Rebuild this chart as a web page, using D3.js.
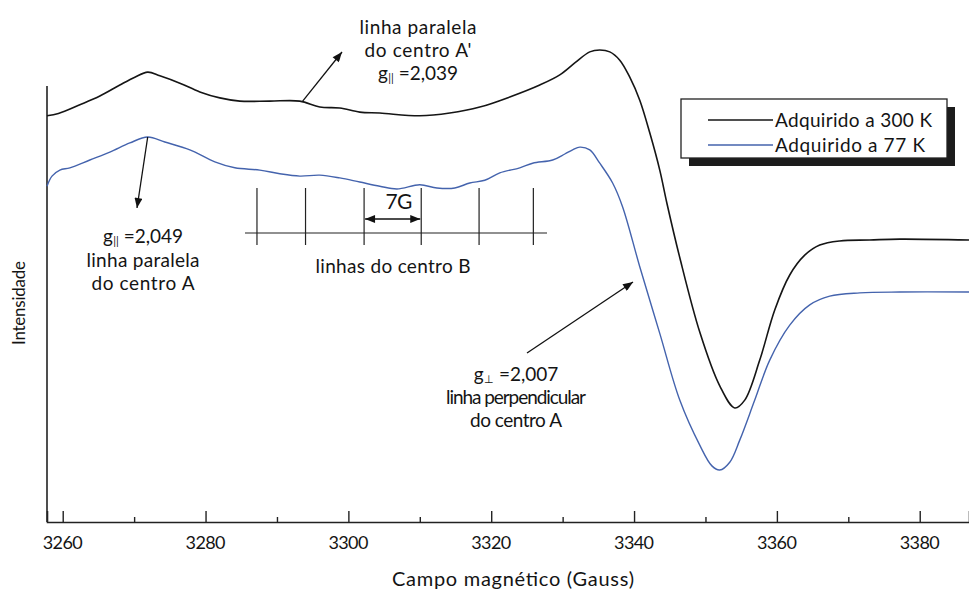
<!DOCTYPE html>
<html>
<head>
<meta charset="utf-8">
<script src="https://cdn.jsdelivr.net/npm/d3@7"></script>
<style>
  html, body { margin: 0; padding: 0; background: #fff; }
  svg { display: block; }
  text { font-family: "Lato", "Open Sans", sans-serif; fill: #141414; }
</style>
</head>
<body>
<svg id="chart" width="969" height="592"></svg>
<script>
// EPR spectra: magnetic field (G) vs. intensity (arbitrary units)
const field300 = [3257.8, 3259.4, 3262.4, 3265.2, 3268.0, 3270.1, 3271.9, 3273.6, 3276.4, 3279.2,
  3282.0, 3284.8, 3289.0, 3293.2, 3296.0, 3298.8, 3301.6, 3304.4, 3310.0, 3314.2, 3318.4,
  3322.6, 3326.8, 3329.6, 3331.7, 3333.8, 3335.2, 3336.6, 3338.0, 3339.4, 3340.8, 3342.2,
  3343.6, 3344.6, 3346.4, 3349.2, 3352.0, 3354.1, 3355.5, 3357.6, 3359.7, 3361.8, 3363.9,
  3366.0, 3368.8, 3373.0, 3377.2, 3386.9];
const int300 = [88.3, 88.8, 90.7, 92.6, 95.0, 96.7, 97.8, 97.0, 95.4, 93.5,
  92.2, 91.5, 91.5, 91.5, 90.2, 90.0, 89.1, 88.9, 88.3, 88.9, 90.2,
  92.4, 95.0, 97.2, 99.8, 102.2, 102.6, 102.2, 100.4, 96.7, 91.7, 84.6,
  76.5, 69.3, 57.5, 41.3, 29.6, 24.8, 26.5, 35.2, 46.1, 53.7, 58.0,
  60.2, 61.1, 61.3, 61.5, 61.3];

const field77 = [3257.8, 3258.5, 3259.6, 3261.0, 3263.8, 3266.6, 3269.4, 3271.9, 3274.3, 3277.8,
  3281.3, 3284.1, 3287.6, 3290.4, 3293.2, 3296.0, 3298.8, 3301.6, 3304.4, 3306.8, 3310.0,
  3312.4, 3314.9, 3317.0, 3319.1, 3321.2, 3324.0, 3325.8, 3328.6, 3330.3, 3331.4, 3332.4,
  3333.8, 3335.2, 3337.0, 3338.4, 3340.8, 3343.6, 3346.4, 3349.2, 3350.9, 3352.0, 3353.4,
  3354.8, 3356.9, 3359.0, 3361.8, 3364.6, 3367.4, 3371.6, 3377.2, 3386.9];
const int77 = [73.0, 75.2, 76.5, 77.0, 78.7, 80.4, 82.4, 83.7, 82.6, 80.9,
  78.3, 77.0, 76.5, 75.7, 75.2, 75.4, 74.8, 73.9, 73.0, 72.4, 73.3,
  72.6, 72.6, 73.7, 74.3, 75.9, 77.0, 78.0, 78.7, 80.0, 80.9, 81.5,
  80.9, 78.0, 73.7, 68.5, 55.5, 41.0, 26.5, 16.7, 12.2, 11.3, 13.0,
  17.8, 26.5, 35.2, 42.8, 47.2, 49.1, 49.8, 50.0, 50.0];

const xTicks = [3260, 3280, 3300, 3320, 3340, 3360, 3380];
const xMinorTicks = [3270, 3290, 3310, 3330, 3350, 3370];

// positions of the six centre-B lines (G)
const centroB = [3287.2, 3294.0, 3302.2, 3310.2, 3318.3, 3325.9];

const seriesNames = ["Adquirido a 300 K", "Adquirido a 77 K"];
const seriesColors = ["#151515", "#4463ad"];

const svg = d3.select("#chart");

const x = d3.scaleLinear().domain([3257.8, 3386.9]).range([47, 969]);
const y = d3.scaleLinear().domain([0, 100]).range([522, 62]);

// set a text element's advance width by adjusting its letter spacing
function fit(sel, w) {
  return sel.attr("textLength", w).attr("lengthAdjust", "spacing");
}

// arrowhead markers
const defs = svg.append("defs");
defs.append("marker")
  .attr("id", "arrow")
  .attr("viewBox", "0 0 10 8")
  .attr("refX", 10).attr("refY", 4)
  .attr("markerWidth", 11).attr("markerHeight", 8)
  .attr("markerUnits", "userSpaceOnUse")
  .attr("orient", "auto-start-reverse")
  .append("path").attr("d", "M0,0 L10,4 L0,8 Z").attr("fill", "#111");

// axes
const xAxisMajor = d3.axisTop(x).tickValues(xTicks).tickSize(11).tickFormat("");
const xAxisMinor = d3.axisTop(x).tickValues(xMinorTicks).tickSize(5).tickFormat("");

const gx = svg.append("g").attr("transform", "translate(0,522)");
gx.call(xAxisMajor);
gx.append("g").call(xAxisMinor).select(".domain").remove();
gx.selectAll(".domain").attr("stroke", "#222").attr("stroke-width", 1.6);
gx.selectAll(".tick line").attr("stroke", "#222").attr("stroke-width", 1.4);

svg.append("g").selectAll("text")
  .data(xTicks).join("text")
  .attr("x", d => x(d)).attr("y", 549)
  .attr("text-anchor", "middle")
  .attr("font-size", 18)
  .call(s => fit(s, 40))
  .text(d => d);

svg.append("line")
  .attr("x1", 47).attr("x2", 47).attr("y1", 86).attr("y2", 522)
  .attr("stroke", "#222").attr("stroke-width", 1.6);

svg.append("text")
  .attr("x", 513).attr("y", 586)
  .attr("text-anchor", "middle")
  .attr("font-size", 20)
  .call(s => fit(s, 242))
  .text("Campo magnético (Gauss)");

svg.append("text")
  .attr("transform", "translate(25,303) rotate(-90)")
  .attr("text-anchor", "middle")
  .attr("font-size", 17)
  .call(s => fit(s, 84))
  .text("Intensidade");

// spectra
const line = d3.line()
  .x(d => x(d[0])).y(d => y(d[1]))
  .curve(d3.curveCatmullRom.alpha(0.5));

const spectra = [
  d3.zip(field300, int300),
  d3.zip(field77, int77)
];

svg.append("g").selectAll("path")
  .data(spectra).join("path")
  .attr("d", line)
  .attr("fill", "none")
  .attr("stroke", (d, i) => seriesColors[i])
  .attr("stroke-width", (d, i) => i === 0 ? 1.6 : 1.4);

// centre-B line pattern
const gB = svg.append("g").attr("stroke", "#222").attr("stroke-width", 1.2);
gB.append("line")
  .attr("x1", 245).attr("x2", 547).attr("y1", 233).attr("y2", 233);
gB.selectAll("line.b")
  .data(centroB).join("line")
  .attr("class", "b")
  .attr("x1", d => x(d)).attr("x2", d => x(d))
  .attr("y1", 188).attr("y2", 245);
svg.append("line")
  .attr("x1", x(centroB[2]) + 1).attr("x2", x(centroB[3]) - 1)
  .attr("y1", 219).attr("y2", 219)
  .attr("stroke", "#111").attr("stroke-width", 1.3)
  .attr("marker-start", "url(#arrow)")
  .attr("marker-end", "url(#arrow)");
svg.append("text")
  .attr("x", (x(centroB[2]) + x(centroB[3])) / 2 + 6).attr("y", 209)
  .attr("text-anchor", "middle").attr("font-size", 21)
  .attr("letter-spacing", -0.5)
  .text("7G");
svg.append("text")
  .attr("x", 393).attr("y", 273)
  .attr("text-anchor", "middle").attr("font-size", 19)
  .call(s => fit(s, 155))
  .text("linhas do centro B");

// annotation arrows
function arrow(x1, y1, x2, y2) {
  svg.append("line")
    .attr("x1", x1).attr("y1", y1).attr("x2", x2).attr("y2", y2)
    .attr("stroke", "#111").attr("stroke-width", 1.3)
    .attr("marker-end", "url(#arrow)");
}
arrow(x(3293.6), y(91.5), 342, 52);
arrow(x(3271.9), y(83.7), 137, 208);
arrow(527, 353, 633, 282);

function label(cx, lines) {
  lines.forEach(l => {
    const t = svg.append("text")
      .attr("x", cx).attr("y", l.y)
      .attr("text-anchor", "middle")
      .attr("font-size", 19);
    if (l.sub) {
      t.append("tspan").text("g");
      t.append("tspan").attr("font-size", 11).attr("dy", 2).attr("dx", 0.5).text(l.sub);
      t.append("tspan").attr("dy", -2).text(" =" + l.val);
    } else {
      fit(t, l.w);
      t.text(l.text);
    }
  });
}
label(418, [
  { y: 34, w: 117, text: "linha paralela" },
  { y: 57, w: 107, text: "do centro A'" },
  { y: 80, sub: "||", val: "2,039" }
]);
label(143, [
  { y: 243, sub: "||", val: "2,049" },
  { y: 267, w: 113, text: "linha paralela" },
  { y: 290, w: 103, text: "do centro A" }
]);
label(516, [
  { y: 381, sub: "\u22A5", val: "2,007" },
  { y: 404, w: 140, text: "linha perpendicular" },
  { y: 427, w: 92, text: "do centro A" }
]);

// legend with drop shadow
const lg = svg.append("g");
lg.append("rect").attr("x", 689).attr("y", 107).attr("width", 266).attr("height", 59).attr("fill", "#1c1c1c");
lg.append("rect").attr("x", 681).attr("y", 99).attr("width", 266).attr("height", 59)
  .attr("fill", "#fff").attr("stroke", "#222").attr("stroke-width", 1.3);
seriesNames.forEach((name, i) => {
  const yy = 120 + i * 25;
  lg.append("line").attr("x1", 708).attr("x2", 773).attr("y1", yy).attr("y2", yy)
    .attr("stroke", seriesColors[i]).attr("stroke-width", 1.5);
  lg.append("text").attr("x", 775).attr("y", yy + 7)
    .attr("font-size", 19)
    .call(s => fit(s, i === 0 ? 157 : 150))
    .text(name);
});
</script>
</body>
</html>
